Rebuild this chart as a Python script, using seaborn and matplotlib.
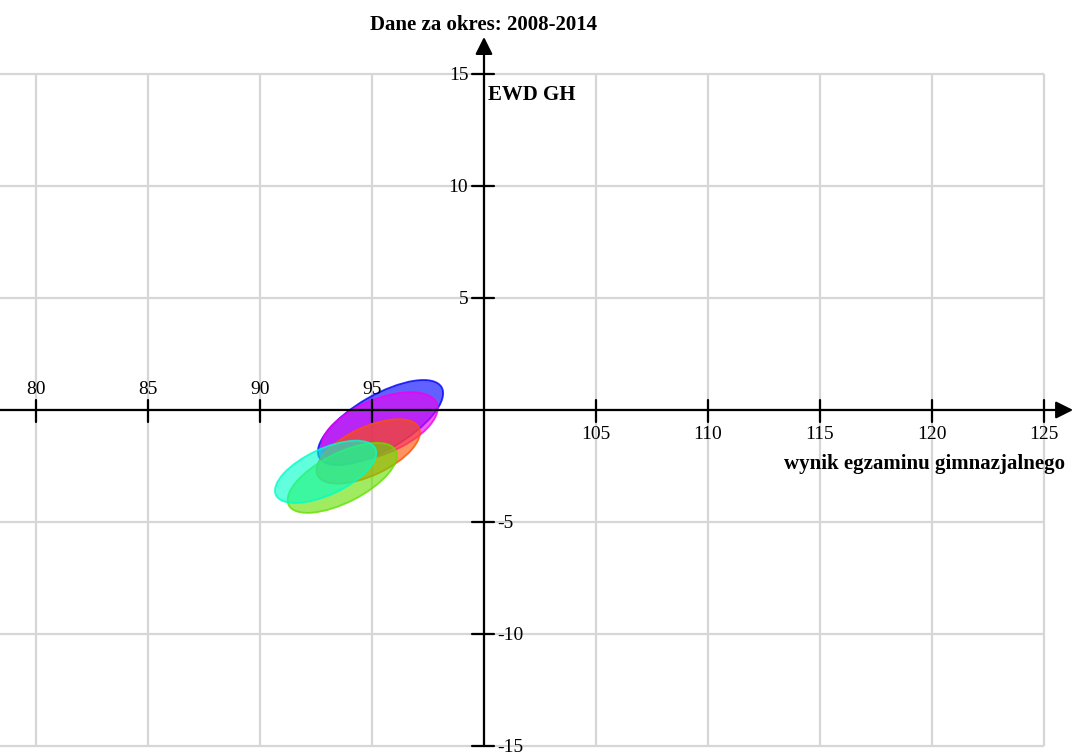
import matplotlib
matplotlib.use("Agg")
import matplotlib.pyplot as plt
from matplotlib.patches import Ellipse
from matplotlib.colors import to_rgba
import seaborn as sns

# okresy EWD (3-letnie) i ich elipsy: srodek (wynik, EWD), szerokosc, wysokosc, kat
okresy = ["2008-2010", "2009-2011", "2010-2012", "2011-2013", "2012-2014"]
wynik_gh = [95.38, 95.34, 94.83, 93.67, 92.93]
ewd_gh = [-0.56, -0.75, -1.85, -3.03, -2.76]
szerokosc = [6.3, 5.52, 5.0, 5.36, 4.9]
wysokosc = [2.45, 2.45, 2.15, 2.2, 2.05]
kat = [30.0, 22.4, 25.0, 27.0, 25.0]
kolory = ["#0000ff", "#f000f0", "#ff5000", "#64e000", "#00ffc8"]

x_ticks = [80, 85, 90, 95, 105, 110, 115, 120, 125]
y_ticks = [-15, -10, -5, 5, 10, 15]

sns.set_theme(style="white")
plt.rcParams["font.family"] = ["Liberation Serif", "DejaVu Serif"]
plt.rcParams["text.color"] = "black"

fig = plt.figure(figsize=(10.73, 7.55), dpi=100)
ax = fig.add_axes([0, 0, 1, 1])
ax.set_xlim(78.393, 126.295)
ax.set_ylim(-15.40, 18.30)
ax.axis("off")

# siatka
grid_c = "#d6d6d6"
ax.vlines(list(range(80, 130, 5)), -15, 15, color=grid_c, lw=1.6, zorder=0)
ax.hlines(list(range(-15, 20, 5)), 75, 125, color=grid_c, lw=1.6, zorder=0)

# elipsy
for i in range(len(okresy)):
    e = Ellipse((wynik_gh[i], ewd_gh[i]), szerokosc[i], wysokosc[i], angle=kat[i],
                facecolor=to_rgba(kolory[i], 0.62), edgecolor=to_rgba(kolory[i], 0.8),
                lw=1.3, zorder=2)
    ax.add_patch(e)

# osie ze strzalkami
ax.annotate("", xy=(126.3, 0), xytext=(78.0, 0),
            arrowprops=dict(arrowstyle="-|>", mutation_scale=26, lw=1.6, color="black",
                            shrinkA=0, shrinkB=0), zorder=3)
ax.annotate("", xy=(100, 16.65), xytext=(100, -15),
            arrowprops=dict(arrowstyle="-|>", mutation_scale=26, lw=1.6, color="black",
                            shrinkA=0, shrinkB=0), zorder=3)

# znaczniki i etykiety
fs = 14
for t in x_ticks:
    ax.plot([t, t], [0.45, -0.55], color="black", lw=1.6, zorder=3)
    if t < 100:
        ax.text(t, 0.55, str(t), ha="center", va="bottom", fontsize=fs, zorder=4)
    else:
        ax.text(t, -0.7, str(t), ha="center", va="top", fontsize=fs, zorder=4)
for t in y_ticks:
    ax.plot([99.45, 100.45], [t, t], color="black", lw=1.6, zorder=3)
    if t > 0:
        ax.text(99.3, t - 0.05, str(t), ha="right", va="center", fontsize=fs, zorder=4)
    else:
        ax.text(100.6, t - 0.05, str(t), ha="left", va="center", fontsize=fs, zorder=4)

ax.text(100, 17.2, "Dane za okres: 2008-2014", ha="center", va="center",
        fontsize=15, fontweight="bold")
ax.text(100.2, 14.05, "EWD GH", ha="left", va="center", fontsize=15, fontweight="bold")
ax.text(125.95, -2.4, "wynik egzaminu gimnazjalnego", ha="right", va="center",
        fontsize=15, fontweight="bold")

fig.savefig("out.png", dpi=100)
